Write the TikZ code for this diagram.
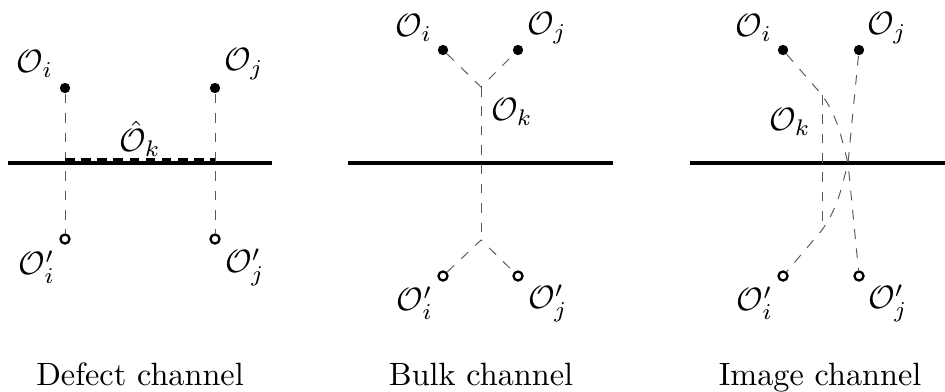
\documentclass[tikz,border=0pt]{standalone}
\usepackage{amsmath}
\tikzset{
  fdot/.style={circle, fill=black, inner sep=0pt, minimum size=3.2pt},
  odot/.style={circle, draw=black, line width=0.7pt, fill=white, inner sep=0pt, minimum size=2.8pt},
  prop/.style={dashed, gray!70!black, line width=0.3pt},
  bdry/.style={line width=1pt},
  lbl/.style={inner sep=0pt},
}
\begin{document}
\begin{tikzpicture}[x=0.31pt, y=-0.31pt]
    \useasboundingbox (0,0) rectangle (945,391);

    % Defect channel
    \coordinate (dl) at (8,163);
    \coordinate (dr) at (272,163);
    \draw[bdry] (dl) -- (dr);
    \node[fdot] (di) at (65,88) {};
    \node[fdot] (dj) at (215,88) {};
    \node[odot] (dip) at (65,239) {};
    \node[odot] (djp) at (215,239) {};
    \draw[prop] (di) -- (dip);
    \draw[prop] (dj) -- (djp);
    \coordinate (dka) at (65,160);
    \coordinate (dkb) at (215,160);
    \draw[line width=1pt, dash pattern=on 3pt off 2pt] (dka) -- (dkb);
    \node[lbl] (ldi) at (35,64) {$\mathcal{O}_i$};
    \node[lbl] (ldj) at (244,64) {$\mathcal{O}_j$};
    \node[lbl] (ldk) at (140,139) {$\hat{\mathcal{O}}_k$};
    \node[lbl] (ldip) at (37,267) {$\mathcal{O}'_i$};
    \node[lbl] (ldjp) at (245,267) {$\mathcal{O}'_j$};
    \node[anchor=base] (cd) at (140,385) {Defect channel};

    % Bulk channel
    \coordinate (bl) at (348,163);
    \coordinate (br) at (613,163);
    \draw[bdry] (bl) -- (br);
    \node[fdot] (bi) at (443,50) {};
    \node[fdot] (bj) at (518,50) {};
    \node[odot] (bip) at (443,276) {};
    \node[odot] (bjp) at (518,276) {};
    \coordinate (bu) at (481,87);
    \coordinate (bd) at (481,240);
    \draw[prop] (bi) -- (bu) -- (bj);
    \draw[prop] (bu) -- (bd);
    \draw[prop] (bip) -- (bd) -- (bjp);
    \node[lbl] (lbi) at (414,28) {$\mathcal{O}_i$};
    \node[lbl] (lbj) at (547,28) {$\mathcal{O}_j$};
    \node[lbl] (lbk) at (512,112) {$\mathcal{O}_k$};
    \node[lbl] (lbip) at (415,303) {$\mathcal{O}'_i$};
    \node[lbl] (lbjp) at (548,303) {$\mathcal{O}'_j$};
    \node[anchor=base] (cb) at (481,385) {Bulk channel};

    % Image channel
    \coordinate (ml) at (690,163);
    \coordinate (mr) at (945,163);
    \draw[bdry] (ml) -- (mr);
    \node[fdot] (mi) at (783,50) {};
    \node[fdot] (mj) at (859,50) {};
    \node[odot] (mip) at (783,276) {};
    \node[odot] (mjp) at (859,276) {};
    \coordinate (ma) at (822,95);
    \coordinate (mb) at (822,230);
    \coordinate (mx) at (848,163);
    \draw[prop] (mi) -- (ma) to[out=-55, in=105] (mx) -- (mjp);
    \draw[prop] (mj) -- (mx) to[out=-105, in=55] (mb) -- (mip);
    \draw[prop] (ma) -- (mb);
    \node[lbl] (lmi) at (754,28) {$\mathcal{O}_i$};
    \node[lbl] (lmj) at (887,28) {$\mathcal{O}_j$};
    \node[lbl] (lmk) at (790,122) {$\mathcal{O}_k$};
    \node[lbl] (lmip) at (755,303) {$\mathcal{O}'_i$};
    \node[lbl] (lmjp) at (888,303) {$\mathcal{O}'_j$};
    \node[anchor=base] (cm) at (820,385) {Image channel};
\end{tikzpicture}
\end{document}
